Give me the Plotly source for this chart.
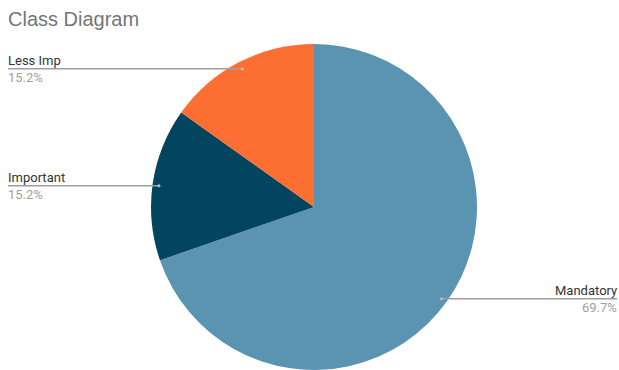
import math
import plotly.graph_objects as go

labels = ["Mandatory", "Important", "Less Imp"]
values = [23, 5, 5]
colors = ["#5B94B1", "#03445F", "#FC6E31"]
title_text = "Class Diagram"

W, H = 619, 370
ML, MR, MT, MB = 0, 0, 44, 0
PW, PH = W - ML - MR, H - MT - MB
CX = 314  # pie centre x in figure px
R = 164
CY = MT + R

def px2x(x):
    return (x - ML) / PW

def px2y(y):
    return (H - MB - y) / PH

half = min((CX - ML), W - MR - CX) / PW
dom_x = [(CX - ML) / PW - half, (CX - ML) / PW + half]

fig = go.Figure()
fig.add_trace(go.Pie(
    labels=labels, values=values,
    marker=dict(colors=colors, line=dict(width=0)),
    sort=False, direction="clockwise", rotation=0,
    textinfo="none", hoverinfo="label+percent",
    domain=dict(x=dom_x, y=[0, 1]),
    showlegend=False,
))

total = sum(values)
cum = 0
shapes, annots = [], []
for lab, v in zip(labels, values):
    mid = (cum + v / 2) / total * 2 * math.pi
    cum += v
    ax = CX + 0.955 * R * math.sin(mid)
    ay = CY - 0.955 * R * math.cos(mid)
    left = ax < CX
    ex = 8 if left else 617
    shapes.append(dict(type="line", xref="paper", yref="paper",
                       x0=px2x(ax), x1=px2x(ex), y0=px2y(ay), y1=px2y(ay),
                       line=dict(color="#9E9E9E", width=1.5)))
    shapes.append(dict(type="circle", xref="paper", yref="paper",
                       xsizemode="pixel", ysizemode="pixel",
                       xanchor=px2x(ax), yanchor=px2y(ay),
                       x0=-1.5, x1=1.5, y0=-1.5, y1=1.5,
                       fillcolor="#BDBDBD", line=dict(width=0)))
    xa = "left" if left else "right"
    annots.append(dict(xref="paper", yref="paper", x=px2x(ex), y=px2y(ay),
                       text=lab, showarrow=False, xanchor=xa, yanchor="bottom",
                       yshift=-1, xshift=-2 if left else 2,
                       font=dict(family="Roboto", size=13, color="#333333")))
    annots.append(dict(xref="paper", yref="paper", x=px2x(ex), y=px2y(ay),
                       text=f"{v / total * 100:.1f}%", showarrow=False, xanchor=xa,
                       yanchor="top", yshift=1, xshift=-2 if left else 2,
                       font=dict(family="Roboto", size=13, color="#A0A0A0")))

fig.update_layout(
    width=W, height=H,
    margin=dict(l=ML, r=MR, t=MT, b=MB),
    paper_bgcolor="white", plot_bgcolor="white",
    title=dict(text=title_text, x=8 / W, xref="container", xanchor="left",
               y=1 - 19 / H, yref="container", yanchor="middle",
               pad=dict(l=0, r=0, t=0, b=0),
               font=dict(family="Liberation Sans, Arial", size=20, color="#757575")),
    shapes=shapes, annotations=annots,
)

fig.write_html(
    "out.html",
    config={"displayModeBar": False},
    post_script="document.body.style.margin='0';"
                "document.documentElement.style.overflow='hidden';"
                "document.body.style.overflow='hidden';",
)
